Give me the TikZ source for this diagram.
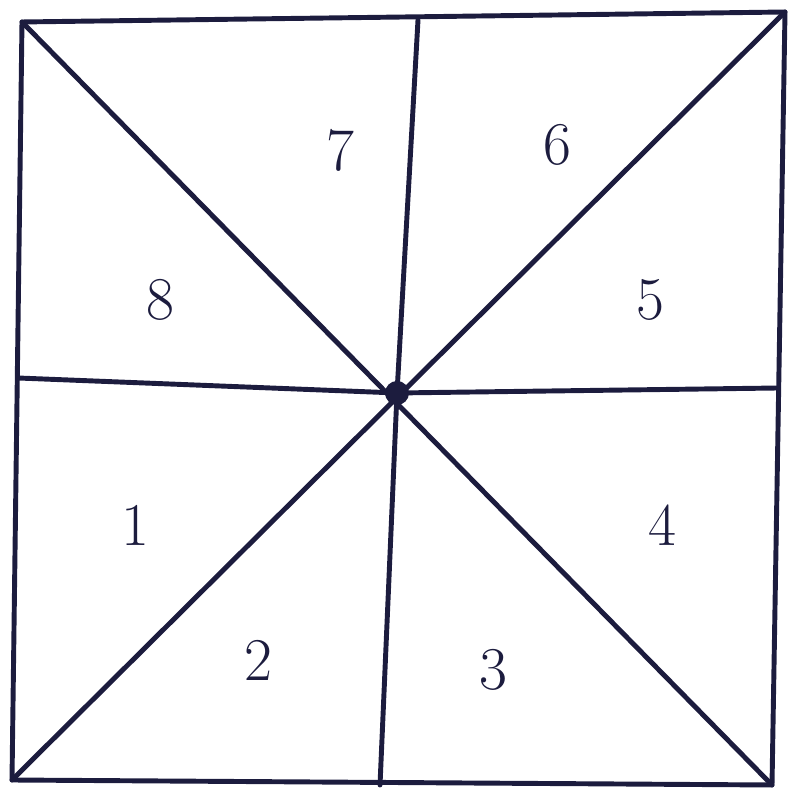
\documentclass[tikz,border=0pt]{standalone}
\usetikzlibrary{positioning}
\definecolor{ink}{RGB}{28,28,62}
\tikzset{
  edge/.style={draw=ink,line width=1.4pt,line cap=round,line join=round},
  num/.style={text=ink,font=\LARGE}
}
\begin{document}
\begin{tikzpicture}
  \useasboundingbox (0,0) rectangle (7.90,7.97);
  % corners, centre and side midpoints
  \coordinate (tl) at (0.22,7.75);
  \coordinate (tr) at (7.85,7.85);
  \coordinate (br) at (7.72,0.12);
  \coordinate (bl) at (0.12,0.17);
  \coordinate (c)  at (3.97,4.04);
  \coordinate (tm) at (4.18,7.77);
  \coordinate (bm) at (3.80,0.12);
  \coordinate (lm) at (0.18,4.19);
  \coordinate (rm) at (7.78,4.09);
  \draw[edge] (tl)--(tr)--(br)--(bl)--cycle;
  \draw[edge] (tl)--(br);
  \draw[edge] (tr)--(bl);
  \draw[edge] (tm)--(c)--(bm);
  \draw[edge] (lm)--(c)--(rm);
  \fill[ink] (c) circle (0.12);
  % sector numbers
  \node[num] (n7) at (3.40,6.47) {7};
  \node[num] (n6) at (5.57,6.52) {6};
  \node[num] (n8) at (1.60,4.97) {8};
  \node[num] (n5) at (6.50,4.97) {5};
  \node[num] (n1) at (1.35,2.72) {1};
  \node[num] (n4) at (6.62,2.72) {4};
  \node[num] (n2) at (2.58,1.37) {2};
  \node[num] (n3) at (4.93,1.27) {3};
\end{tikzpicture}
\end{document}
